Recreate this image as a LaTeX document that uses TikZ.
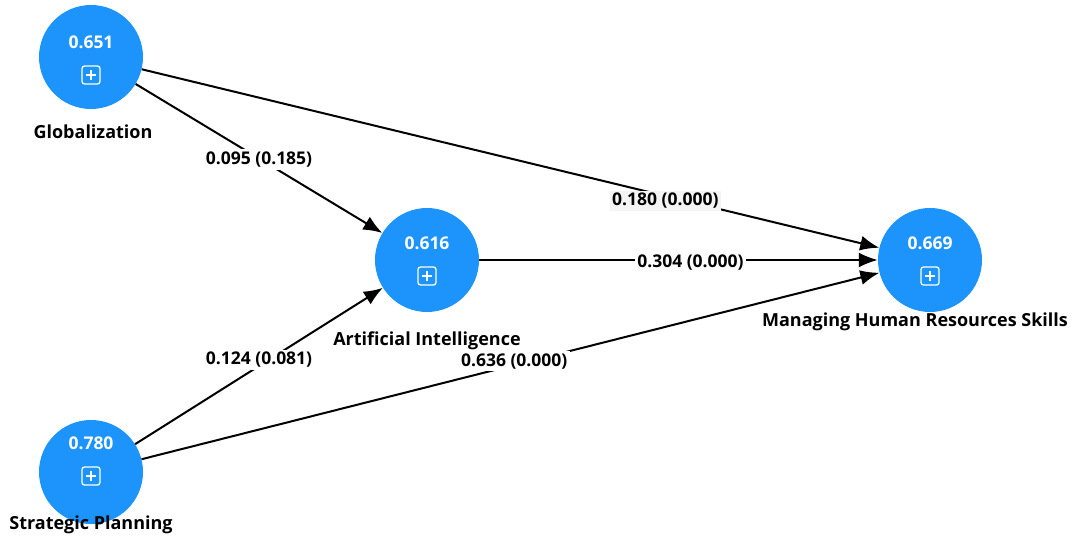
\documentclass[tikz,border=0pt]{standalone}
\usepackage{fontspec}
\setmainfont{Open Sans}
\usetikzlibrary{arrows.meta,calc}
\definecolor{nodeblue}{RGB}{28,148,252}
\definecolor{lblgray}{RGB}{244,244,244}
\tikzset{
  lv/.style={circle,fill=nodeblue,minimum size=104pt,inner sep=0pt},
  valtxt/.style={text=white,font=\bfseries\fontsize{17.5}{20}\selectfont},
  lvname/.style={text=black,font=\bfseries\fontsize{18}{21}\selectfont},
  relpath/.style={line width=2pt,-{Latex[length=19pt,width=15pt]}},
  coef/.style={fill=white,inner sep=2.5pt,text=black,font=\bfseries\fontsize{17.5}{20}\selectfont},
}
\newcommand{\plusicon}[1]{%
  \draw[white,line width=1.3pt,rounded corners=2.5pt] ($(#1)+(-9,-9)$) rectangle ($(#1)+(9,9)$);
  \draw[white,line width=1.3pt] ($(#1)+(-5,0)$) -- ($(#1)+(5,0)$) ($(#1)+(0,-5)$) -- ($(#1)+(0,5)$);}
\begin{document}
\begin{tikzpicture}[x=1pt,y=-1pt]
\useasboundingbox (0,0) rectangle (1078,540);
% latent variables
\node[lv] (g) at (91,57) {};
\node[lv] (ai) at (427,260) {};
\node[lv] (mh) at (930,260) {};
\node[lv] (sp) at (91,472) {};
% values
\node[valtxt] (gv) at (91,42) {0.651};
\node[valtxt] (aiv) at (427,243) {0.616};
\node[valtxt] (mhv) at (930,243) {0.669};
\node[valtxt] (spv) at (91,443) {0.780};
\coordinate (gi) at (91,75);
\coordinate (aii) at (427,276);
\coordinate (mhi) at (930,276);
\coordinate (spi) at (91,476);
\plusicon{gi}
\plusicon{aii}
\plusicon{mhi}
\plusicon{spi}
% names
\node[lvname] (gn) at (93,132) {Globalization};
\node[lvname] (ain) at (427,341) {Artificial Intelligence};
\node[lvname] (mhn) at (915,322) {Managing Human Resources Skills};
\node[lvname] (spn) at (91,525) {Strategic Planning};
% paths
\draw[relpath] (g) -- node[coef,pos=0.5,yshift=-1pt] {0.095 (0.185)} (ai);
\draw[relpath] (g) -- node[coef,fill=lblgray,pos=0.71,yshift=-5pt] {0.180 (0.000)} (mh);
\draw[relpath] (ai) -- node[coef,pos=0.53,yshift=-3pt] {0.304 (0.000)} (mh);
\draw[relpath] (sp) -- node[coef,pos=0.5,yshift=6pt] {0.124 (0.081)} (ai);
\draw[relpath] (sp) -- node[coef,pos=0.505,yshift=4pt] {0.636 (0.000)} (mh);
\end{tikzpicture}
\end{document}
